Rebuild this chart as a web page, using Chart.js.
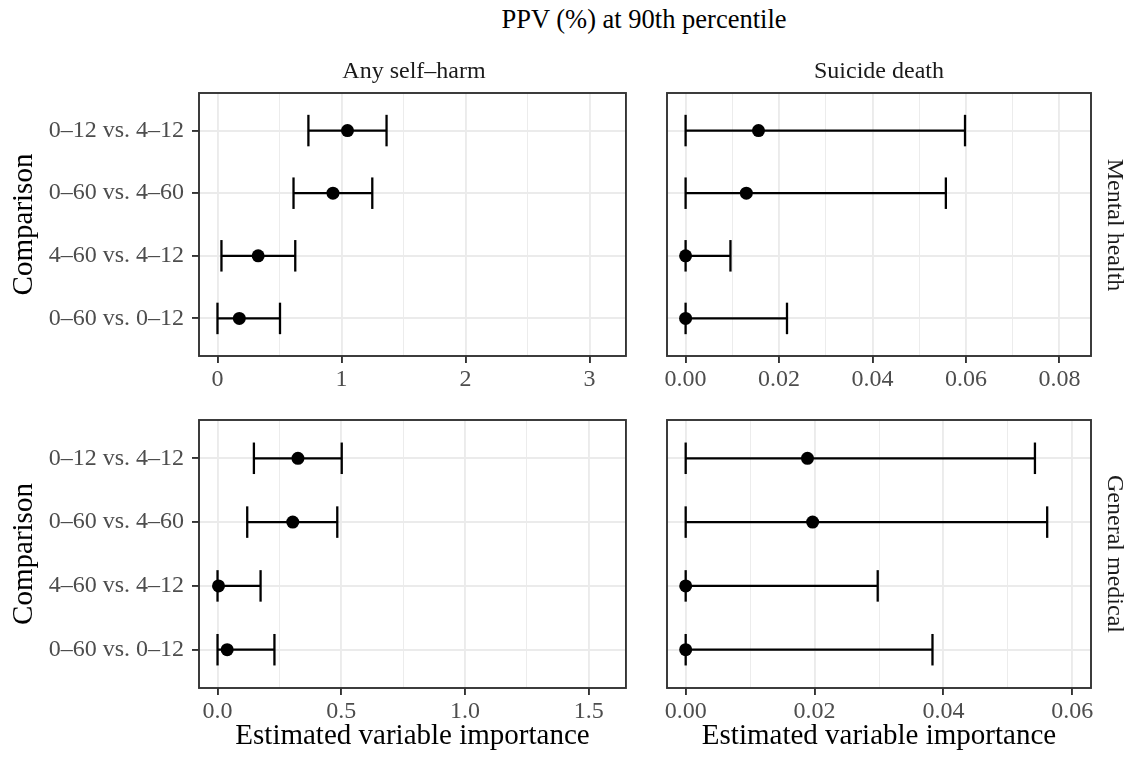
<!DOCTYPE html>
<html><head><meta charset="utf-8">
<script src="https://cdn.jsdelivr.net/npm/chart.js@4"></script>
<style>
html,body{margin:0;padding:0;background:#fff;}
#wrap{position:relative;width:1128px;height:758px;overflow:hidden;background:#fff;font-family:'Liberation Serif','Times New Roman',serif;}
canvas{position:absolute;}
.t{position:absolute;white-space:nowrap;text-align:center;transform-origin:50% 50%;}
</style></head><body>
<div id="wrap">
  <canvas id="c1"></canvas>
  <canvas id="c2"></canvas>
  <canvas id="c3"></canvas>
  <canvas id="c4"></canvas>
</div>
<script>
// ---- data (rows listed top to bottom) ----
const comparisons = ["0–12 vs. 4–12", "0–60 vs. 4–60", "4–60 vs. 4–12", "0–60 vs. 0–12"];
const outcomes = ["Any self–harm", "Suicide death"];
const settings = ["Mental health", "General medical"];
const plotTitle = "PPV (%) at 90th percentile";
const xAxisTitle = "Estimated variable importance";
const yAxisTitle = "Comparison";

const selfHarmMentalEst = [1.048, 0.931, 0.328, 0.176];
const selfHarmMentalLo  = [0.733, 0.613, 0.032, 0.000];
const selfHarmMentalHi  = [1.363, 1.248, 0.627, 0.504];

const suicideMentalEst = [0.0156, 0.0130, 0.0000, 0.0000];
const suicideMentalLo  = [0.0000, 0.0000, 0.0000, 0.0000];
const suicideMentalHi  = [0.0598, 0.0557, 0.0096, 0.0217];

const selfHarmGeneralEst = [0.325, 0.304, 0.004, 0.039];
const selfHarmGeneralLo  = [0.147, 0.120, 0.000, 0.000];
const selfHarmGeneralHi  = [0.502, 0.484, 0.174, 0.230];

const suicideGeneralEst = [0.0189, 0.0197, 0.0000, 0.0000];
const suicideGeneralLo  = [0.0000, 0.0000, 0.0000, 0.0000];
const suicideGeneralHi  = [0.0542, 0.0561, 0.0298, 0.0383];

// tick labels per panel
const xTicksSelfHarmMental  = ["0", "1", "2", "3"];
const xTicksSuicideMental   = ["0.00", "0.02", "0.04", "0.06", "0.08"];
const xTicksSelfHarmGeneral = ["0.0", "0.5", "1.0", "1.5"];
const xTicksSuicideGeneral  = ["0.00", "0.02", "0.04", "0.06"];

// axis limits per panel (with ggplot-like expansion)
const xLimSelfHarmMental  = [-0.149, 3.293];
const xLimSuicideMental   = [-0.00398, 0.08676];
const xLimSelfHarmGeneral = [-0.0749, 1.6508];
const xLimSuicideGeneral  = [-0.0029, 0.0629];

// ---- styling ----
const FONT = "'Liberation Serif','Times New Roman',serif";
const TICK_COLOR = '#4D4D4D';
const GRID = '#EBEBEB';
const DARK = '#333333';
const LW = 1.9;
const BAR_LW = 2.3;

const framePlugin = {
  id: 'frame',
  afterDraw(chart) {
    const a = chart.chartArea, ctx = chart.ctx;
    ctx.save();
    ctx.strokeStyle = DARK;
    ctx.lineWidth = LW;
    ctx.strokeRect(a.left, a.top, a.right - a.left, a.bottom - a.top);
    ctx.restore();
  }
};

function buildChart(canvasId, geo, d) {
  const cv = document.getElementById(canvasId);
  cv.width = geo.w; cv.height = geo.h;
  cv.style.left = geo.x + 'px'; cv.style.top = geo.y + 'px';
  cv.style.width = geo.w + 'px'; cv.style.height = geo.h + 'px';
  const n = comparisons.length;
  const yOf = i => n - i;
  const majors = d.xTicks.map(Number);
  const step = majors[1] - majors[0];
  const eps = step * 1e-6;
  const minors = majors.map(m => m + step / 2).concat([majors[0] - step / 2]);
  const all = majors.concat(minors).filter(v => v >= d.xLim[0] && v <= d.xLim[1]).sort((a, b) => a - b);
  const majorIndex = v => majors.findIndex(m => Math.abs(m - v) < eps);

  const datasets = [];
  datasets.push({
    data: d.est.map((v, i) => ({x: v, y: yOf(i)})),
    showLine: false,
    pointRadius: 6.5,
    pointBackgroundColor: '#000',
    pointBorderColor: '#000',
    pointBorderWidth: 0
  });
  d.lo.forEach((lo, i) => {
    datasets.push({
      data: [{x: lo, y: yOf(i)}, {x: d.hi[i], y: yOf(i)}],
      showLine: true,
      borderColor: '#000',
      borderWidth: BAR_LW,
      pointStyle: 'line',
      pointRotation: 90,
      pointRadius: 15.75,
      pointBorderWidth: BAR_LW,
      pointBorderColor: '#000',
      pointBackgroundColor: '#000'
    });
  });

  return new Chart(cv, {
    type: 'scatter',
    data: {datasets},
    plugins: [framePlugin],
    options: {
      responsive: false,
      animation: false,
      devicePixelRatio: 1,
      events: [],
      layout: {padding: {top: geo.pt, right: geo.pr, left: 0, bottom: 0}},
      plugins: {legend: {display: false}, tooltip: {enabled: false}, title: {display: false}},
      scales: {
        x: {
          type: 'linear',
          min: d.xLim[0], max: d.xLim[1],
          afterBuildTicks: s => { s.ticks = all.map(v => ({value: v})); },
          afterFit: s => { s.height = geo.xh; },
          border: {display: false},
          grid: {
            color: GRID,
            lineWidth: c => (c.tick && majorIndex(c.tick.value) >= 0) ? LW : LW / 2,
            drawTicks: true,
            tickLength: 7,
            tickWidth: LW,
            tickColor: c => (c.tick && majorIndex(c.tick.value) >= 0) ? DARK : 'rgba(0,0,0,0)'
          },
          ticks: {
            autoSkip: false, maxRotation: 0, minRotation: 0,
            padding: 2,
            color: TICK_COLOR,
            font: {family: FONT, size: 24},
            callback: v => { const k = majorIndex(v); return k >= 0 ? d.xTicks[k] : ''; }
          },
          title: {
            display: !!d.xTitle, text: xAxisTitle, color: '#000',
            font: {family: FONT, size: 29},
            padding: {top: 0, bottom: 4}
          }
        },
        y: {
          type: 'linear',
          min: 0.4, max: n + 0.6,
          afterBuildTicks: s => { s.ticks = comparisons.map((_, i) => ({value: yOf(i)})); },
          afterFit: s => { s.width = geo.yw; },
          border: {display: false},
          grid: {
            color: GRID, lineWidth: LW,
            drawTicks: d.showY, tickLength: 7, tickWidth: LW, tickColor: DARK
          },
          ticks: {
            display: d.showY,
            padding: 8,
            color: TICK_COLOR,
            font: {family: FONT, size: 24},
            callback: v => comparisons[n - Math.round(v)]
          },
          title: {
            display: d.showY, text: yAxisTitle, color: '#000',
            font: {family: FONT, size: 29},
            padding: {top: 7, bottom: 0}
          }
        }
      }
    }
  });
}

// chart areas: top row y 93..356, bottom row y 420..688; left x 199..629, right x 667..1091
buildChart('c1', {x: 0, y: 63, w: 644, h: 333, pt: 30, pr: 15, yw: 199, xh: 40},
  {est: selfHarmMentalEst, lo: selfHarmMentalLo, hi: selfHarmMentalHi, xTicks: xTicksSelfHarmMental, xLim: xLimSelfHarmMental, showY: true, xTitle: false});
buildChart('c2', {x: 647, y: 63, w: 464, h: 333, pt: 30, pr: 20, yw: 20, xh: 40},
  {est: suicideMentalEst, lo: suicideMentalLo, hi: suicideMentalHi, xTicks: xTicksSuicideMental, xLim: xLimSuicideMental, showY: false, xTitle: false});
buildChart('c3', {x: 0, y: 390, w: 644, h: 368, pt: 30, pr: 15, yw: 199, xh: 70},
  {est: selfHarmGeneralEst, lo: selfHarmGeneralLo, hi: selfHarmGeneralHi, xTicks: xTicksSelfHarmGeneral, xLim: xLimSelfHarmGeneral, showY: true, xTitle: true});
buildChart('c4', {x: 647, y: 390, w: 464, h: 368, pt: 30, pr: 20, yw: 20, xh: 70},
  {est: suicideGeneralEst, lo: suicideGeneralLo, hi: suicideGeneralHi, xTicks: xTicksSuicideGeneral, xLim: xLimSuicideGeneral, showY: false, xTitle: true});

// ---- titles and facet strips ----
function addText(text, cx, cy, size, color, rot) {
  const el = document.createElement('div');
  el.className = 't';
  el.textContent = text;
  el.style.fontSize = size + 'px';
  el.style.lineHeight = Math.round(size * 1.2) + 'px';
  el.style.color = color;
  el.style.left = cx + 'px';
  el.style.top = cy + 'px';
  el.style.transform = 'translate(-50%,-50%)' + (rot ? ' rotate(' + rot + 'deg)' : '');
  document.getElementById('wrap').appendChild(el);
}
addText(plotTitle, 644, 19.4, 26.5, '#000', 0);
addText(outcomes[0], 414, 70.4, 24, '#1A1A1A', 0);
addText(outcomes[1], 879, 70.4, 24, '#1A1A1A', 0);
addText(settings[0], 1115, 224.5, 24, '#1A1A1A', 90);
addText(settings[1], 1115, 554, 24, '#1A1A1A', 90);
</script>
</body></html>
